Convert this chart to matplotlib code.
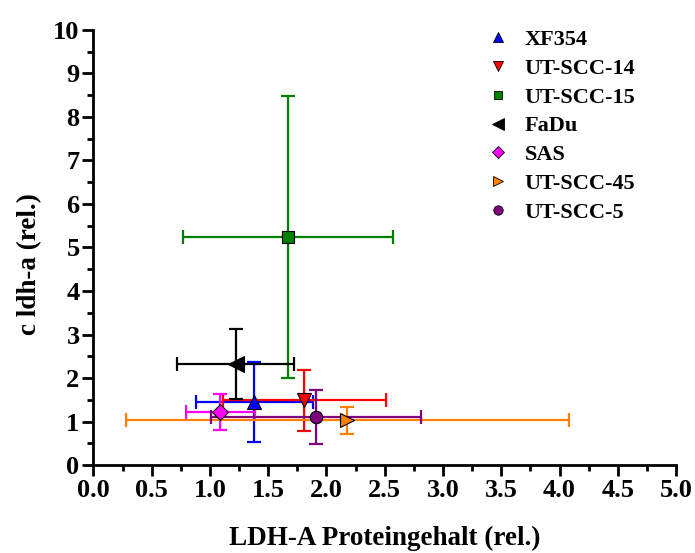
import matplotlib
matplotlib.use("Agg")
import matplotlib.pyplot as plt
from matplotlib.ticker import MultipleLocator, FormatStrFormatter

plt.rcParams['font.family'] = ['Liberation Serif', 'DejaVu Serif']
plt.rcParams['font.weight'] = 'bold'

# Cell lines with mean values and standard deviations
names = ["XF354", "UT-SCC-14", "UT-SCC-15", "FaDu", "SAS", "UT-SCC-45", "UT-SCC-5"]
protein = [1.38, 1.81, 1.67, 1.22, 1.09, 2.18, 1.91]
protein_sd = [0.50, 0.70, 0.90, 0.50, 0.30, 1.90, 0.90]
mrna = [1.45, 1.49, 5.25, 2.32, 1.22, 1.03, 1.11]
mrna_sd = [0.92, 0.70, 3.24, 0.81, 0.41, 0.31, 0.62]

colors = ["#0000FF", "#FF0000", "#008000", "#000000", "#FF00FF", "#FF8000", "#800080"]
markers = ["^", "v", "s", "<", "D", ">", "o"]
sizes = [10, 10, 8, 11, 8, 10, 9]

fig = plt.figure(figsize=(6.95, 5.53), dpi=100)
ax = fig.add_axes([0.1345, 0.1591, 0.9727 - 0.1345, 0.9458 - 0.1591])

for i, name in enumerate(names):
    ax.errorbar(protein[i], mrna[i], xerr=protein_sd[i], yerr=mrna_sd[i],
                fmt='none', ecolor=colors[i], elinewidth=1.6, capsize=5,
                capthick=1.6, zorder=2)
    ax.plot(protein[i], mrna[i], linestyle='none', marker=markers[i],
            markersize=sizes[i], markerfacecolor=colors[i],
            markeredgecolor='black', markeredgewidth=0.8, zorder=3)

ax.set_xlim(0, 5)
ax.set_ylim(0, 10)
ax.xaxis.set_major_locator(MultipleLocator(0.5))
ax.xaxis.set_minor_locator(MultipleLocator(0.25))
ax.yaxis.set_major_locator(MultipleLocator(1))
ax.yaxis.set_minor_locator(MultipleLocator(0.5))
ax.xaxis.set_major_formatter(FormatStrFormatter('%.1f'))

for side in ['top', 'right']:
    ax.spines[side].set_visible(False)
for side in ['left', 'bottom']:
    ax.spines[side].set_linewidth(2)

ax.tick_params(which='major', direction='out', length=8, width=2,
               labelsize=19, pad=2)
ax.tick_params(which='minor', direction='out', length=4, width=2)
for lab in ax.get_xticklabels() + ax.get_yticklabels():
    lab.set_fontweight('bold')

ax.set_xlabel("LDH-A Proteingehalt (rel.)", fontsize=19.5, fontweight='bold',
              labelpad=17)
ax.set_ylabel("c ldh-a (rel.)", fontsize=19.5, fontweight='bold')
ax.yaxis.set_label_coords(-0.089, 0.462)

legend_handles = [plt.Line2D([], [], linestyle='none', marker=markers[i],
                             markersize=sizes[i] * 0.75,
                             markerfacecolor=colors[i],
                             markeredgecolor='black', markeredgewidth=0.6)
                  for i in range(len(names))]
ax.legend(handles=legend_handles, labels=names, loc='upper left',
          bbox_to_anchor=(0.641, 1.047), frameon=False,
          prop={'family': 'Liberation Serif', 'weight': 'bold', 'size': 16},
          handletextpad=0.7, labelspacing=0.37, handlelength=1.0)

fig.savefig("out.png", dpi=100)
